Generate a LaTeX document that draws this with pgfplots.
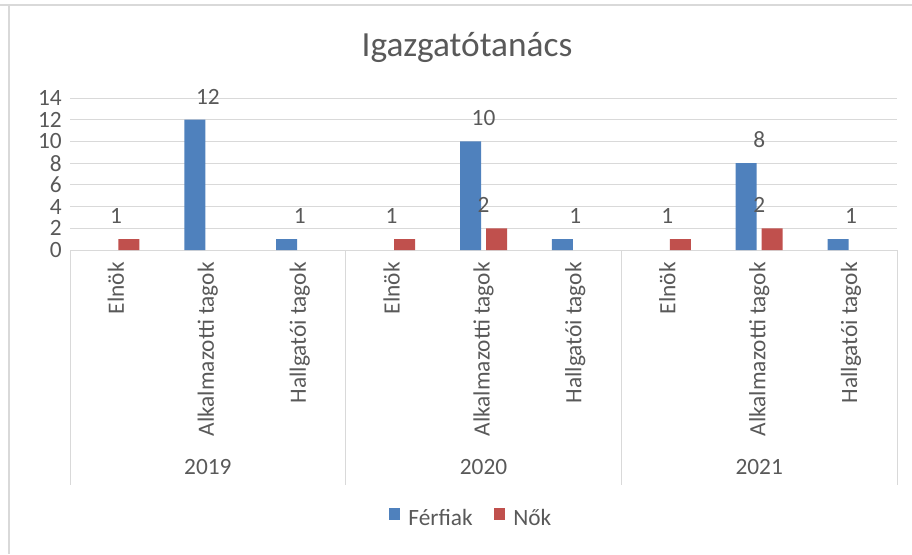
\documentclass[border=0pt]{standalone}
\usepackage{pgfplots}
\pgfplotsset{compat=1.18}
\usepackage{fontspec}
\setmainfont{Carlito}
\definecolor{bblue}{HTML}{4F81BD}
\definecolor{bred}{HTML}{C0504D}
\definecolor{tgray}{HTML}{595959}
\definecolor{lgray}{HTML}{D9D9D9}
\newcommand{\lf}{\fontsize{17.5}{21}\selectfont}
\begin{document}
\begin{tikzpicture}
\path[use as bounding box] (0pt,0pt) rectangle (684pt,415.5pt);
\draw[lgray, line width=1.5pt] (0pt,412.1pt) -- (684pt,412.1pt);
\draw[lgray, line width=1.5pt] (6.75pt,412.1pt) -- (6.75pt,0pt);
\node[font=\fontsize{26.5}{30}\selectfont, text=tgray] at (350.25pt,380.25pt) {Igazgatótanács};
\begin{axis}[
  at={(52.5pt,228pt)}, anchor=south west,
  scale only axis, width=620.25pt, height=114pt,
  xmin=-0.5, xmax=8.5, ymin=0, ymax=14,
  clip=false,
  axis x line*=bottom, axis y line*=left,
  x axis line style={lgray, -}, y axis line style={draw=none},
  ymajorgrids, grid style={lgray, line width=0.75pt},
  major tick length=0pt,
  ytick={0,2,...,14},
  yticklabel style={font=\lf, text=tgray, inner sep=0pt, xshift=-6pt},
  /pgf/number format/assume math mode=true,
  xtick={0,...,8},
  xticklabels={Elnök, Alkalmazotti tagok, Hallgatói tagok, Elnök, Alkalmazotti tagok, Hallgatói tagok, Elnök, Alkalmazotti tagok, Hallgatói tagok},
  xticklabel style={rotate=90, anchor=east, inner sep=0pt, font=\lf, text=tgray},
  xticklabel shift=9pt,
  legend style={at={(0.4855,0)}, anchor=center, yshift=-201pt, draw=none, fill=none,
    font=\lf, text=tgray, legend columns=-1,
    /tikz/every odd column/.append style={column sep=4pt},
    /tikz/every even column/.append style={column sep=14pt}},
  nodes near coords,
  every node near coord/.append style={font=\lf, text=tgray, inner sep=0pt, anchor=south, yshift=11.5pt},
]
\addplot[ybar, bar width=15.75pt, bar shift=-9.75pt, fill=bblue, draw=none,
  legend image code/.code={\fill[bblue] (0pt,-1.5pt) rectangle (8.5pt,7.5pt);}]
  coordinates {(1,12) (2,1) (4,10) (5,1) (7,8) (8,1)};
\addlegendentry{Férfiak}
\addplot[ybar, bar width=15.75pt, bar shift=9.75pt, fill=bred, draw=none,
  legend image code/.code={\fill[bred] (0pt,-1.5pt) rectangle (8.5pt,7.5pt);}]
  coordinates {(0,1) (3,1) (4,2) (6,1) (7,2)};
\addlegendentry{Nők}
\draw[lgray, line width=0.75pt] (axis cs:-0.5,0) -- ++(0pt,-176pt);
\draw[lgray, line width=0.75pt] (axis cs:2.5,0) -- ++(0pt,-176pt);
\draw[lgray, line width=0.75pt] (axis cs:5.5,0) -- ++(0pt,-176pt);
\draw[lgray, line width=0.75pt] (axis cs:8.5,0) -- ++(0pt,-176pt);
\node[font=\lf, text=tgray] at (axis cs:1,0) [yshift=-162.75pt] {2019};
\node[font=\lf, text=tgray] at (axis cs:4,0) [yshift=-162.75pt] {2020};
\node[font=\lf, text=tgray] at (axis cs:7,0) [yshift=-162.75pt] {2021};
\end{axis}
\end{tikzpicture}
\end{document}
